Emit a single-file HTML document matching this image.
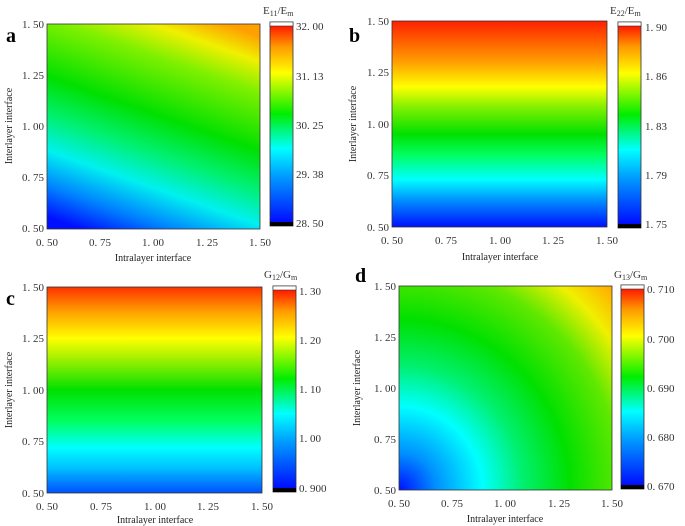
<!DOCTYPE html>
<html><head><meta charset="utf-8"><style>
html,body{margin:0;padding:0;background:#fff;}
svg{display:block;font-family:"Liberation Serif",serif;}
.t{font-size:11px;fill:#333;}
.l{font-size:10px;fill:#222;}
.p{font-size:20px;font-weight:bold;fill:#000;}
</style></head><body>
<svg width="685" height="526" viewBox="0 0 685 526">
<defs>
<linearGradient id="cb" x1="0" y1="1" x2="0" y2="0">
<stop offset="0" stop-color="#0000ff"/><stop offset="0.25" stop-color="#00a0ff"/><stop offset="0.38" stop-color="#00ffff"/><stop offset="0.55" stop-color="#00ee00"/><stop offset="0.75" stop-color="#ffff00"/><stop offset="0.88" stop-color="#ff9900"/><stop offset="1" stop-color="#ff0000"/>
</linearGradient>
<linearGradient id="ga" x1="0.3" y1="1.05" x2="0.7" y2="-0.05">
<stop offset="0" stop-color="#0010ff"/><stop offset="0.12" stop-color="#0080ff"/><stop offset="0.26" stop-color="#00f0f0"/><stop offset="0.4" stop-color="#00f070"/><stop offset="0.55" stop-color="#00e000"/><stop offset="0.78" stop-color="#80f000"/><stop offset="0.9" stop-color="#f0f000"/><stop offset="1" stop-color="#ffa000"/>
</linearGradient>
<linearGradient id="gb" x1="0" y1="1" x2="0" y2="0">
<stop offset="0" stop-color="#0010ff"/><stop offset="0.13" stop-color="#0090ff"/><stop offset="0.23" stop-color="#00ffff"/><stop offset="0.35" stop-color="#00ff60"/><stop offset="0.45" stop-color="#00e000"/><stop offset="0.58" stop-color="#80f000"/><stop offset="0.68" stop-color="#ffff00"/><stop offset="0.8" stop-color="#ffa000"/><stop offset="1" stop-color="#ff2000"/>
</linearGradient>
<linearGradient id="gc" x1="0" y1="1" x2="0" y2="0">
<stop offset="0" stop-color="#0050ff"/><stop offset="0.12" stop-color="#00c0ff"/><stop offset="0.22" stop-color="#00ffff"/><stop offset="0.35" stop-color="#00ff60"/><stop offset="0.5" stop-color="#00e000"/><stop offset="0.65" stop-color="#a0f000"/><stop offset="0.75" stop-color="#ffff00"/><stop offset="0.88" stop-color="#ffa000"/><stop offset="1" stop-color="#ff3000"/>
</linearGradient>
<radialGradient id="gd" gradientUnits="userSpaceOnUse" cx="399" cy="490" r="310">
<stop offset="0" stop-color="#0010ff"/><stop offset="0.12" stop-color="#0090ff"/><stop offset="0.27" stop-color="#00ffff"/><stop offset="0.4" stop-color="#00f070"/><stop offset="0.55" stop-color="#00e000"/><stop offset="0.72" stop-color="#60e800"/><stop offset="0.84" stop-color="#f0f000"/><stop offset="0.94" stop-color="#ffb000"/><stop offset="1" stop-color="#ff8000"/>
</radialGradient>
</defs>

<!-- Panel a -->
<rect x="47" y="24" width="213" height="205" fill="url(#ga)" stroke="#333" stroke-width="0.8"/>
<text class="p" x="6" y="42">a</text>
<rect x="270" y="22" width="23" height="204" fill="url(#cb)" stroke="#333" stroke-width="0.8"/>
<rect x="270" y="22" width="23" height="4" fill="#fff" stroke="#333" stroke-width="0.6"/>
<rect x="270" y="222" width="23" height="4" fill="#000"/>
<text class="t" x="263" y="14">E<tspan font-size="8" dy="2">11</tspan><tspan dy="-2">/E</tspan><tspan font-size="8" dy="2">m</tspan></text>
<g class="t"><text x="296" y="30">32. 00</text><text x="296" y="80">31. 13</text><text x="296" y="129">30. 25</text><text x="296" y="178">29. 38</text><text x="296" y="227">28. 50</text></g>
<g class="t" text-anchor="end"><text x="44" y="28">1. 50</text><text x="44" y="79">1. 25</text><text x="44" y="130">1. 00</text><text x="44" y="181">0. 75</text><text x="44" y="232">0. 50</text></g>
<g class="t" text-anchor="middle"><text x="47" y="246">0. 50</text><text x="100" y="246">0. 75</text><text x="153" y="246">1. 00</text><text x="207" y="246">1. 25</text><text x="260" y="246">1. 50</text></g>
<text class="l" x="153" y="261" text-anchor="middle">Intralayer interface</text>
<text class="l" transform="translate(12,126) rotate(-90)" text-anchor="middle">Interlayer interface</text>

<!-- Panel b -->
<rect x="392" y="21" width="215" height="206" fill="url(#gb)" stroke="#333" stroke-width="0.8"/>
<text class="p" x="349" y="42">b</text>
<rect x="618" y="22" width="23" height="206" fill="url(#cb)" stroke="#333" stroke-width="0.8"/>
<rect x="618" y="22" width="23" height="4" fill="#fff" stroke="#333" stroke-width="0.6"/>
<rect x="618" y="224" width="23" height="4" fill="#000"/>
<text class="t" x="610" y="14">E<tspan font-size="8" dy="2">22</tspan><tspan dy="-2">/E</tspan><tspan font-size="8" dy="2">m</tspan></text>
<g class="t"><text x="645" y="31">1. 90</text><text x="645" y="80">1. 86</text><text x="645" y="130">1. 83</text><text x="645" y="179">1. 79</text><text x="645" y="228">1. 75</text></g>
<g class="t" text-anchor="end"><text x="389" y="25">1. 50</text><text x="389" y="76">1. 25</text><text x="389" y="128">1. 00</text><text x="389" y="179">0. 75</text><text x="389" y="231">0. 50</text></g>
<g class="t" text-anchor="middle"><text x="392" y="244">0. 50</text><text x="446" y="244">0. 75</text><text x="500" y="244">1. 00</text><text x="553" y="244">1. 25</text><text x="607" y="244">1. 50</text></g>
<text class="l" x="500" y="260" text-anchor="middle">Intralayer interface</text>
<text class="l" transform="translate(356,124) rotate(-90)" text-anchor="middle">Interlayer interface</text>

<!-- Panel c -->
<rect x="47" y="287" width="215" height="206" fill="url(#gc)" stroke="#333" stroke-width="0.8"/>
<text class="p" x="6" y="305">c</text>
<rect x="273" y="286" width="23" height="206" fill="url(#cb)" stroke="#333" stroke-width="0.8"/>
<rect x="273" y="286" width="23" height="4" fill="#fff" stroke="#333" stroke-width="0.6"/>
<rect x="273" y="488" width="23" height="4" fill="#000"/>
<text class="t" x="264" y="278">G<tspan font-size="8" dy="2">12</tspan><tspan dy="-2">/G</tspan><tspan font-size="8" dy="2">m</tspan></text>
<g class="t"><text x="299" y="295">1. 30</text><text x="299" y="344">1. 20</text><text x="299" y="393">1. 10</text><text x="299" y="442">1. 00</text><text x="299" y="492">0. 900</text></g>
<g class="t" text-anchor="end"><text x="44" y="291">1. 50</text><text x="44" y="342">1. 25</text><text x="44" y="394">1. 00</text><text x="44" y="445">0. 75</text><text x="44" y="497">0. 50</text></g>
<g class="t" text-anchor="middle"><text x="47" y="510">0. 50</text><text x="101" y="510">0. 75</text><text x="155" y="510">1. 00</text><text x="208" y="510">1. 25</text><text x="262" y="510">1. 50</text></g>
<text class="l" x="155" y="523" text-anchor="middle">Intralayer interface</text>
<text class="l" transform="translate(12,390) rotate(-90)" text-anchor="middle">Interlayer interface</text>

<!-- Panel d -->
<rect x="399" y="286" width="213" height="204" fill="url(#gd)" stroke="#333" stroke-width="0.8"/>
<text class="p" x="355" y="282">d</text>
<rect x="621" y="285" width="23" height="204" fill="url(#cb)" stroke="#333" stroke-width="0.8"/>
<rect x="621" y="285" width="23" height="4" fill="#fff" stroke="#333" stroke-width="0.6"/>
<rect x="621" y="485" width="23" height="4" fill="#000"/>
<text class="t" x="614" y="278">G<tspan font-size="8" dy="2">13</tspan><tspan dy="-2">/G</tspan><tspan font-size="8" dy="2">m</tspan></text>
<g class="t"><text x="647" y="293">0. 710</text><text x="647" y="343">0. 700</text><text x="647" y="392">0. 690</text><text x="647" y="441">0. 680</text><text x="647" y="490">0. 670</text></g>
<g class="t" text-anchor="end"><text x="396" y="290">1. 50</text><text x="396" y="341">1. 25</text><text x="396" y="392">1. 00</text><text x="396" y="443">0. 75</text><text x="396" y="494">0. 50</text></g>
<g class="t" text-anchor="middle"><text x="399" y="507">0. 50</text><text x="452" y="507">0. 75</text><text x="505" y="507">1. 00</text><text x="559" y="507">1. 25</text><text x="612" y="507">1. 50</text></g>
<text class="l" x="505" y="522" text-anchor="middle">Intralayer interface</text>
<text class="l" transform="translate(360,388) rotate(-90)" text-anchor="middle">Interlayer interface</text>
</svg>
</body></html>
